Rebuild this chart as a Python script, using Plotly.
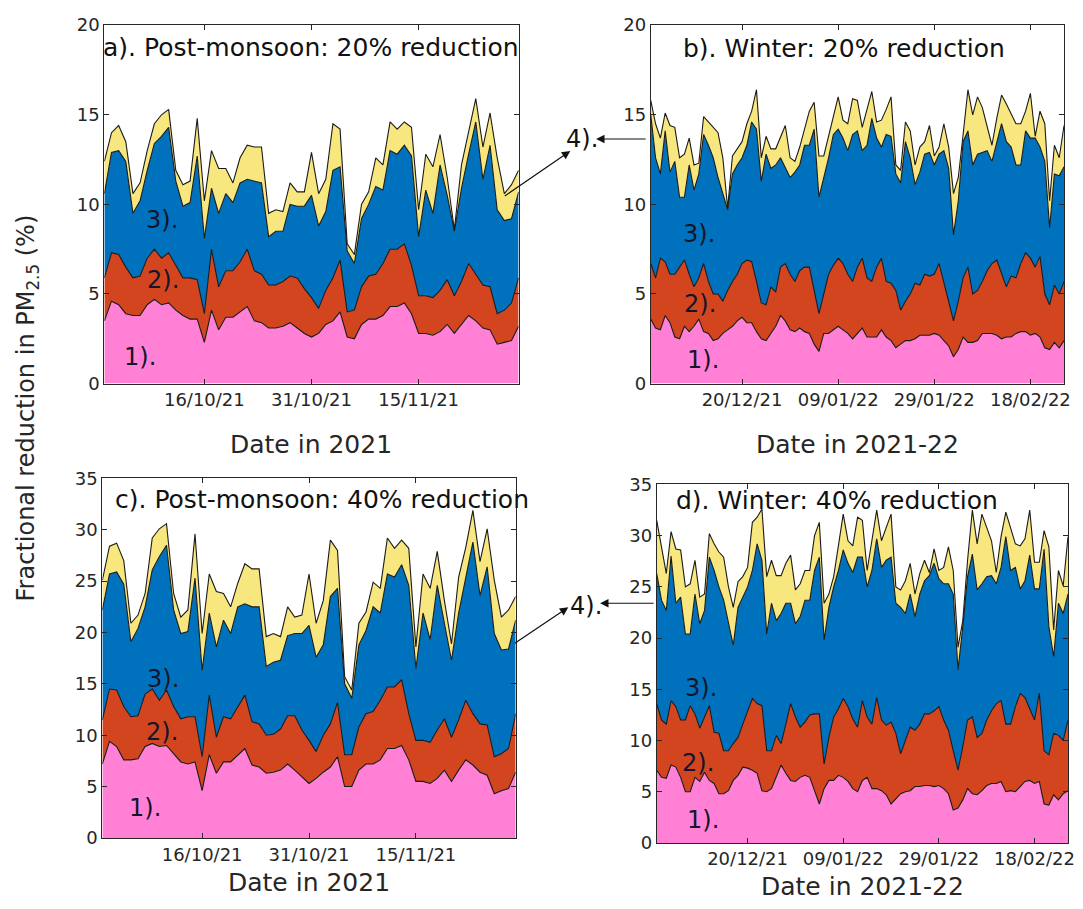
import pandas as pd
import plotly.graph_objects as go

# daily dates of each season
postmonsoon_dates = pd.date_range('2021-10-02', '2021-11-29')
winter_dates = pd.date_range('2021-12-01', '2022-02-25')

# cumulative levels (%): top of layer 1)., 1)+2)., 1)+2)+3)., and all four
a_lvl1 = [3.5, 4.6, 4.4, 3.9, 3.8, 3.8, 4.4, 4.7, 4.4, 4.5, 4.1, 3.8, 3.6, 3.6, 2.3, 4.1, 3.0, 3.7, 3.7, 4.0,
          4.3, 3.5, 3.4, 3.1, 3.1, 3.2, 3.4, 3.1, 2.8, 2.6, 2.8, 3.3, 3.5, 4.0, 2.6, 2.5, 3.3, 3.6, 3.6, 3.8,
          4.3, 4.3, 4.5, 3.9, 2.8, 2.8, 2.7, 2.9, 3.3, 2.8, 3.3, 3.8, 3.5, 3.1, 3.0, 2.2, 2.3, 2.4, 3.2]
a_lvl2 = [5.9, 7.3, 7.2, 6.5, 5.9, 6.0, 7.0, 7.5, 7.0, 7.3, 6.6, 5.9, 5.9, 5.8, 3.9, 7.5, 5.4, 6.3, 6.3, 6.8,
          7.5, 6.3, 6.1, 5.5, 5.5, 5.7, 6.0, 5.9, 5.3, 4.8, 4.2, 5.2, 5.9, 6.9, 4.0, 4.1, 5.4, 6.0, 6.1, 6.7,
          7.5, 7.5, 7.8, 6.6, 4.9, 4.9, 4.8, 5.2, 5.8, 4.9, 5.7, 6.7, 6.1, 5.5, 5.4, 3.9, 4.1, 4.5, 5.9]
a_lvl3 = [10.6, 12.9, 13.0, 12.4, 9.5, 10.2, 11.9, 13.4, 13.8, 14.3, 11.3, 9.9, 10.1, 12.7, 8.1, 10.9, 9.5, 10.6, 10.1, 11.2,
          11.4, 11.3, 11.2, 8.2, 8.5, 8.5, 10.0, 9.9, 9.9, 10.5, 8.8, 9.6, 11.9, 12.1, 7.4, 6.7, 9.2, 10.0, 11.0, 10.8,
          13.0, 12.8, 13.3, 12.7, 8.2, 10.8, 9.5, 12.2, 10.5, 8.5, 10.9, 12.8, 14.6, 11.4, 13.3, 9.7, 9.1, 9.2, 10.7]
a_lvl4 = [12.4, 14.0, 14.4, 13.5, 10.6, 11.2, 13.0, 14.5, 15.0, 15.3, 11.9, 11.1, 11.3, 14.8, 10.2, 13.0, 12.0, 12.0, 11.2, 12.6,
          13.3, 13.2, 13.2, 9.5, 9.7, 9.6, 11.2, 10.7, 10.7, 12.9, 10.6, 11.4, 14.5, 14.2, 7.8, 7.2, 10.0, 10.7, 12.6, 12.2,
          14.6, 14.2, 14.6, 14.3, 9.7, 12.8, 12.1, 13.9, 11.5, 8.6, 12.2, 14.0, 15.9, 13.2, 15.1, 12.6, 10.6, 11.1, 11.9]

b_lvl1 = [3.6, 3.1, 3.0, 3.8, 3.4, 2.6, 2.5, 3.2, 2.9, 3.2, 3.6, 2.9, 2.8, 2.4, 2.5, 2.8, 3.0, 3.2, 3.5, 3.7,
          3.4, 3.4, 2.9, 2.5, 2.4, 2.8, 3.2, 3.8, 3.5, 3.0, 2.9, 3.1, 2.9, 2.8, 2.2, 1.8, 2.8, 2.8, 3.0, 3.2,
          3.0, 2.8, 2.5, 2.8, 3.1, 2.6, 2.6, 2.6, 3.0, 2.6, 2.4, 2.0, 2.2, 2.4, 2.4, 2.5, 2.7, 2.7, 2.7, 2.8,
          2.7, 2.4, 2.1, 1.5, 1.9, 2.6, 2.3, 2.3, 2.4, 2.8, 2.8, 2.8, 2.7, 2.5, 2.6, 2.6, 2.8, 2.9, 2.9, 2.7,
          2.8, 2.6, 2.0, 1.9, 2.3, 2.0, 2.4]
b_lvl2 = [6.7, 5.9, 7.0, 6.8, 6.1, 6.1, 6.5, 6.9, 6.1, 5.4, 5.9, 6.7, 5.7, 5.0, 5.0, 4.6, 5.2, 5.7, 6.1, 6.7,
          6.9, 6.8, 5.7, 4.5, 4.4, 5.4, 5.1, 6.5, 6.7, 6.1, 5.7, 6.3, 6.5, 6.5, 5.2, 3.9, 5.0, 6.1, 6.6, 7.0,
          6.7, 6.1, 5.7, 6.5, 7.0, 5.9, 5.7, 6.5, 7.0, 5.7, 5.6, 5.2, 4.1, 4.6, 5.0, 5.6, 5.5, 6.1, 6.0, 6.1,
          6.7, 5.6, 4.6, 3.5, 4.6, 5.9, 6.5, 5.0, 5.2, 5.7, 6.3, 6.7, 6.9, 6.1, 5.4, 6.0, 5.9, 6.7, 7.3, 7.0,
          6.5, 7.1, 5.0, 4.4, 5.5, 5.0, 5.7]
b_lvl3 = [15.0, 12.6, 11.7, 14.1, 11.8, 12.4, 10.4, 10.4, 12.2, 10.8, 11.7, 13.9, 13.3, 12.6, 11.5, 10.6, 9.7, 11.7, 12.2, 12.6,
          13.3, 14.6, 14.2, 11.3, 12.8, 12.0, 12.2, 12.6, 12.0, 11.5, 11.8, 12.2, 13.3, 13.3, 14.2, 10.4, 11.5, 12.6, 13.9, 14.2,
          13.7, 13.0, 13.9, 14.1, 13.0, 13.3, 14.8, 13.7, 13.2, 13.9, 13.8, 11.7, 11.2, 13.5, 12.6, 11.1, 11.8, 12.8, 12.9, 12.2,
          12.8, 13.0, 12.0, 8.3, 10.2, 13.5, 14.1, 12.2, 12.8, 12.9, 13.0, 12.4, 13.5, 14.5, 13.5, 13.2, 12.2, 12.2, 14.1, 13.7,
          13.7, 13.2, 12.4, 8.7, 11.7, 11.6, 12.1]
b_lvl4 = [15.8, 14.5, 13.7, 15.1, 14.4, 14.3, 12.6, 12.8, 13.7, 12.2, 12.3, 14.9, 14.6, 14.3, 14.0, 12.6, 9.8, 12.7, 13.1, 13.5,
          14.5, 15.2, 16.4, 12.6, 13.8, 13.1, 13.1, 13.8, 14.4, 12.6, 12.4, 13.2, 14.2, 15.2, 15.7, 12.7, 12.7, 13.8, 14.9, 16.0,
          14.7, 14.5, 15.9, 15.8, 14.3, 15.3, 16.3, 14.6, 14.7, 15.3, 16.0, 12.2, 11.9, 14.6, 14.1, 12.2, 13.2, 13.5, 14.4, 12.7,
          13.2, 14.5, 13.2, 10.6, 11.5, 13.9, 16.4, 15.0, 16.0, 15.4, 14.3, 13.3, 14.8, 16.1, 15.6, 15.0, 14.5, 14.5, 15.2, 16.2,
          13.8, 15.2, 14.5, 10.2, 13.3, 12.6, 14.4]

c_lvl1 = [7.2, 9.4, 8.9, 7.6, 7.6, 7.7, 8.9, 9.2, 8.9, 9.0, 8.2, 7.4, 7.2, 7.4, 4.6, 8.1, 6.3, 7.4, 7.4, 8.1,
          8.7, 7.1, 6.9, 6.3, 6.4, 6.6, 7.2, 6.6, 5.9, 5.3, 5.8, 6.4, 6.9, 7.9, 5.0, 5.0, 6.6, 7.2, 7.2, 7.6,
          8.7, 8.7, 9.0, 7.6, 5.5, 5.5, 5.3, 5.8, 6.6, 5.5, 6.6, 7.6, 7.1, 6.4, 6.1, 4.3, 4.6, 4.8, 6.4]
c_lvl2 = [11.5, 14.5, 14.4, 12.8, 11.8, 11.9, 14.0, 14.5, 13.4, 14.4, 12.8, 11.6, 11.8, 11.8, 7.9, 13.9, 9.8, 11.8, 11.6, 12.8,
          13.9, 11.3, 11.1, 10.0, 10.1, 10.6, 11.9, 11.9, 10.5, 9.5, 8.4, 10.0, 11.1, 13.2, 8.1, 8.1, 10.8, 12.1, 12.3, 13.4,
          14.7, 14.7, 15.4, 12.1, 9.5, 9.5, 9.3, 10.5, 11.6, 9.8, 11.5, 13.4, 12.1, 11.1, 11.0, 7.9, 8.2, 8.7, 12.1]
c_lvl3 = [22.2, 25.7, 25.9, 24.7, 19.1, 20.4, 22.5, 26.1, 27.4, 28.5, 22.2, 19.9, 20.1, 25.3, 16.3, 21.9, 18.6, 21.2, 19.9, 22.5,
          22.8, 22.5, 22.5, 16.7, 17.1, 17.3, 19.7, 19.9, 19.9, 20.7, 17.6, 18.8, 23.5, 24.3, 15.0, 13.6, 18.8, 20.2, 22.5, 21.9,
          25.7, 25.4, 26.6, 24.6, 16.5, 21.9, 19.3, 24.6, 20.9, 17.3, 21.9, 25.4, 28.8, 23.6, 26.4, 19.9, 18.3, 18.4, 21.2]
c_lvl4 = [25.1, 28.4, 28.7, 27.0, 20.9, 21.7, 23.8, 29.2, 30.1, 30.6, 23.8, 21.5, 22.2, 29.6, 19.9, 25.7, 24.0, 23.8, 22.5, 24.8,
          26.7, 26.2, 26.2, 19.6, 19.9, 19.6, 22.5, 21.5, 21.7, 25.7, 20.9, 23.1, 29.0, 28.0, 15.7, 14.4, 20.9, 22.0, 24.9, 24.3,
          29.2, 28.2, 29.0, 28.2, 18.6, 25.7, 24.3, 27.9, 23.1, 18.9, 25.4, 28.3, 31.9, 26.9, 30.1, 25.1, 21.5, 22.2, 23.5]

d_lvl1 = [7.1, 6.4, 6.3, 7.6, 7.4, 6.4, 5.0, 5.0, 6.4, 6.0, 6.9, 6.1, 5.8, 4.8, 4.8, 5.1, 6.1, 6.6, 7.4, 7.3,
          7.1, 6.8, 5.1, 5.0, 5.3, 6.4, 7.6, 6.8, 6.1, 6.0, 6.4, 6.6, 6.4, 5.1, 3.8, 5.3, 6.1, 6.1, 6.6, 6.4,
          6.0, 5.3, 5.0, 6.1, 6.4, 5.3, 5.3, 5.1, 4.7, 3.8, 4.3, 4.8, 5.0, 5.1, 5.5, 5.5, 5.6, 5.6, 5.5, 5.6,
          5.3, 4.8, 3.2, 3.4, 4.2, 5.3, 4.8, 4.7, 5.1, 5.6, 5.8, 5.8, 6.0, 5.0, 5.1, 5.0, 5.5, 6.0, 6.1, 5.8,
          6.0, 3.8, 3.7, 4.7, 4.2, 4.8, 5.1]
d_lvl2 = [13.6, 12.0, 11.6, 13.9, 13.3, 12.0, 12.0, 13.4, 12.6, 11.2, 12.3, 13.4, 10.8, 10.7, 9.0, 9.0, 9.7, 10.3, 11.6, 12.9,
          14.1, 13.6, 13.4, 9.0, 9.0, 10.5, 9.7, 11.6, 13.6, 12.3, 11.3, 11.8, 12.5, 12.6, 12.6, 7.7, 10.3, 12.3, 13.1, 14.1,
          13.3, 12.1, 11.3, 13.9, 12.3, 11.6, 14.2, 12.0, 11.5, 11.8, 10.7, 8.7, 10.0, 11.3, 11.0, 11.6, 12.6, 12.6, 12.9, 13.3,
          12.0, 11.0, 9.0, 7.1, 9.4, 12.0, 12.3, 10.3, 10.7, 12.0, 12.9, 13.6, 13.9, 11.6, 11.6, 13.3, 14.6, 14.2, 13.1, 12.0,
          14.6, 9.0, 8.6, 10.7, 10.5, 10.0, 12.0]
d_lvl3 = [26.3, 23.7, 22.7, 28.0, 23.4, 24.0, 20.4, 20.4, 24.3, 21.4, 22.7, 27.9, 26.6, 25.0, 23.7, 21.4, 19.3, 23.0, 24.0, 25.0,
          26.6, 29.2, 27.6, 20.4, 23.4, 21.7, 22.4, 23.4, 23.4, 21.4, 22.1, 23.7, 23.7, 26.6, 27.9, 19.8, 23.0, 25.0, 26.6, 28.6,
          27.3, 26.4, 27.9, 27.9, 25.0, 26.6, 29.7, 26.9, 27.6, 27.9, 23.4, 23.0, 22.4, 24.3, 22.1, 24.3, 25.6, 26.1, 27.3, 25.8,
          25.3, 25.3, 24.3, 16.9, 21.1, 26.0, 28.2, 24.7, 25.3, 26.0, 26.1, 25.3, 26.9, 29.9, 26.6, 26.9, 24.8, 25.6, 28.1, 24.8,
          24.8, 28.7, 21.1, 18.2, 23.4, 22.4, 24.3]
d_lvl4 = [31.5, 28.9, 26.3, 30.4, 28.7, 28.6, 25.0, 25.3, 27.6, 24.0, 24.3, 30.2, 29.2, 28.4, 27.9, 25.0, 23.0, 25.5, 26.0, 26.9,
          31.3, 31.8, 32.6, 26.0, 27.6, 26.1, 26.1, 27.3, 28.1, 24.7, 25.3, 26.6, 26.6, 30.0, 31.3, 23.4, 24.3, 26.0, 29.2, 32.1,
          29.5, 29.0, 31.8, 31.5, 26.6, 29.5, 32.5, 29.5, 30.8, 32.1, 25.0, 24.7, 25.6, 27.3, 24.3, 26.3, 27.6, 26.4, 28.7, 26.6,
          26.9, 28.9, 26.6, 19.1, 21.7, 27.6, 32.5, 29.2, 32.1, 30.8, 29.5, 26.4, 29.9, 32.3, 30.8, 29.2, 29.0, 29.7, 32.5, 27.4,
          27.4, 30.5, 28.9, 20.8, 26.6, 25.1, 29.9]

postmonsoon_ticks = ['2021-10-16', '2021-10-31', '2021-11-15']
postmonsoon_ticktext = ['16/10/21', '31/10/21', '15/11/21']
winter_ticks = ['2021-12-20', '2022-01-09', '2022-01-29', '2022-02-18']
winter_ticktext = ['20/12/21', '09/01/22', '29/01/22', '18/02/22']

titles = ['a). Post-monsoon: 20% reduction', 'b). Winter: 20% reduction',
          'c). Post-monsoon: 40% reduction', 'd). Winter: 40% reduction']
layer_labels = ['1).', '2).', '3).']
colors = ['#ff80d5', '#d2451f', '#0072bd', '#f8e67e']

# the page body keeps an 8 px margin, so the figure is 16 px smaller than the window
OFF = 8
W, H = 1083 - 2 * OFF, 909 - 2 * OFF
FONT = 'DejaVu Sans'
TXT = '#262626'
SQ = 0.978   # the shot comes out a little squeezed in height, around the middle


def clip(v):
    return min(1.0, max(0.0, v))


def fx(x):
    return clip((x + 2 - OFF) / W)


def fy(y):
    y = 454.5 + (y - 454.5) / SQ
    return clip(1 - (y - OFF) / H)


# panel boxes in window pixels: left, right, top, bottom
panels = [
    dict(dates=postmonsoon_dates, lv=[a_lvl1, a_lvl2, a_lvl3, a_lvl4], ymax=20, box=(103, 520, 24, 383),
         tv=postmonsoon_ticks, tt=postmonsoon_ticktext, title_xy=(311, 46), xtitle='Date in 2021', xt_y=444,
         lab=[(139, 356), (162, 279), (161, 219)]),
    dict(dates=winter_dates, lv=[b_lvl1, b_lvl2, b_lvl3, b_lvl4], ymax=20, box=(653, 1069, 24, 383),
         tv=winter_ticks, tt=winter_ticktext, title_xy=(848, 47), xtitle='Date in 2021-22', xt_y=444,
         lab=[(706, 359), (703, 303), (702, 233)]),
    dict(dates=postmonsoon_dates, lv=[c_lvl1, c_lvl2, c_lvl3, c_lvl4], ymax=35, box=(101, 517, 478, 838),
         tv=postmonsoon_ticks, tt=postmonsoon_ticktext, title_xy=(322, 499), xtitle='Date in 2021', xt_y=883,
         lab=[(144, 808), (161, 732), (162, 679)]),
    dict(dates=winter_dates, lv=[d_lvl1, d_lvl2, d_lvl3, d_lvl4], ymax=35, box=(659, 1073, 484, 843),
         tv=winter_ticks, tt=winter_ticktext, title_xy=(840, 500), xtitle='Date in 2021-22', xt_y=887,
         lab=[(706, 820), (701, 763), (704, 688)]),
]

fig = go.Figure()
ann = []
lay = {}

for k, p in enumerate(panels):
    n = '' if k == 0 else str(k + 1)
    l, r, t, b = p['box']
    for j in range(4):
        fig.add_trace(go.Scatter(
            x=p['dates'], y=p['lv'][j], xaxis='x' + n, yaxis='y' + n,
            mode='lines', line=dict(color='#1a1a1a', width=1.1),
            fill='tozeroy' if j == 0 else 'tonexty', fillcolor=colors[j],
            showlegend=False, hoverinfo='skip'))

    common = dict(showline=True, linecolor=TXT, linewidth=1, mirror='ticks', ticks='inside',
                  ticklen=5, tickcolor=TXT, showgrid=False, zeroline=False,
                  ticklabeloverflow='allow',
                  tickfont=dict(family=FONT, size=18, color=TXT))
    lay['xaxis' + n] = dict(common, domain=[fx(l), fx(r)], anchor='y' + n,
                            range=[p['dates'][0], p['dates'][-1]],
                            tickvals=p['tv'], ticktext=p['tt'])
    lay['yaxis' + n] = dict(common, domain=[fy(b), fy(t)], anchor='x' + n,
                            range=[0, p['ymax']], tickvals=list(range(0, p['ymax'] + 1, 5)))

    tx, ty = p['title_xy']
    ann.append(dict(text=titles[k], x=fx(tx), y=fy(ty), font=dict(family=FONT, size=25, color='#111111')))
    ann.append(dict(text=p['xtitle'], x=fx((l + r) / 2), y=fy(p['xt_y']),
                    font=dict(family=FONT, size=25, color=TXT)))
    for lbl, (lx, ly) in zip(layer_labels, p['lab']):
        ann.append(dict(text=lbl, x=fx(lx), y=fy(ly), font=dict(family=FONT, size=24, color='#15152a')))

# y axis title shared by all panels
ann.append(dict(text='Fractional reduction in PM<sub>2.5</sub> (%)', x=fx(26), y=fy(407),
                textangle=-90, font=dict(family=FONT, size=24, color=TXT)))

# 4). labels with arrows pointing to the thin yellow layer
for (tx, ty), heads in [((584, 138), [((572, 150), (-67, 46)), ((598, 138), (51, 0))]),
                        ((588, 606), [((570, 607), (-55, 37)), ((602, 603), (55, 0))])]:
    ann.append(dict(text='4).', x=fx(tx), y=fy(ty), font=dict(family=FONT, size=24, color='#111111')))
    for (hx, hy), (dx, dy) in heads:
        ann.append(dict(text='', x=fx(hx), y=fy(hy), showarrow=True, ax=dx, ay=dy,
                        arrowhead=2, arrowsize=1.4, arrowwidth=1.2, arrowcolor='#111111', standoff=0))

for a in ann:
    a.setdefault('showarrow', False)
    a.update(xref='paper', yref='paper', xanchor='center', yanchor='middle')

fig.update_layout(width=W, height=H, margin=dict(l=0, r=0, t=0, b=0),
                  paper_bgcolor='white', plot_bgcolor='white',
                  annotations=ann, **lay)

fig.write_html("out.html")
